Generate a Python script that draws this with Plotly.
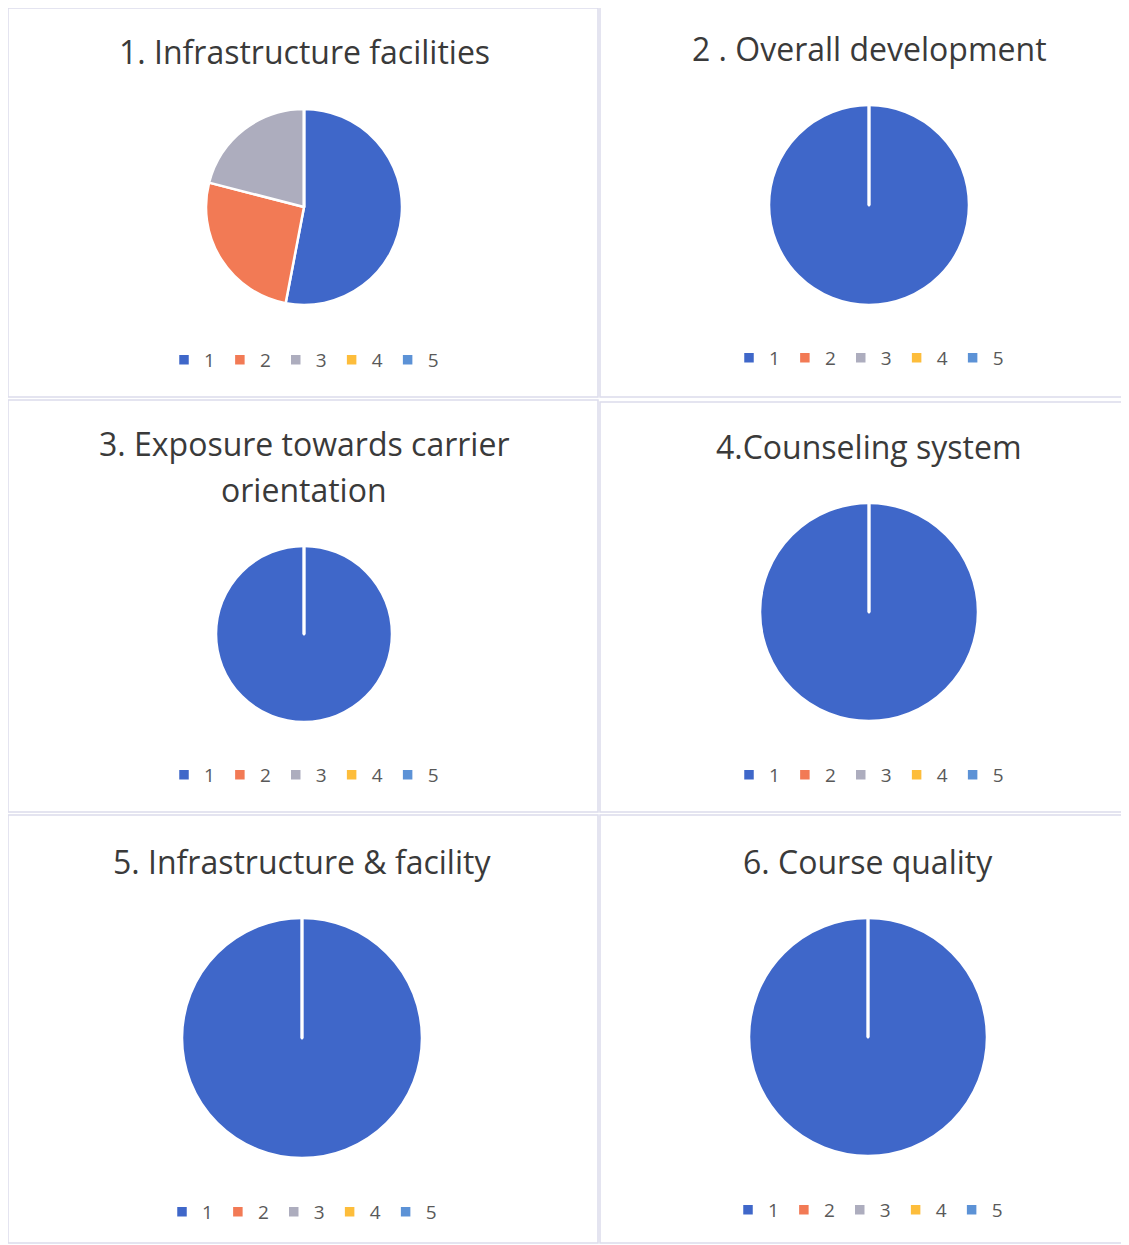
import plotly.graph_objects as go

# survey ratings, share of answers per rating (1..5)
ratings = ["1", "2", "3", "4", "5"]
titles = [
    "1. Infrastructure facilities",
    "2 . Overall development",
    "3. Exposure towards carrier<br>orientation",
    "4.Counseling system",
    "5. Infrastructure & facility",
    "6. Course quality",
]
q1 = [53, 26, 21, 0, 0]
q2 = [100, 0, 0, 0, 0]
q3 = [100, 0, 0, 0, 0]
q4 = [100, 0, 0, 0, 0]
q5 = [100, 0, 0, 0, 0]
q6 = [100, 0, 0, 0, 0]
colors = ["#3F67C9", "#F27A55", "#ADADBE", "#FDBD3B", "#5C92D6"]

# page puts the plot 8px in from the top left corner
OFF = 8
W, H = 1129 - OFF, 1245 - OFF

# layout of each panel: pie centre, pie radius, title y, legend y (pixels in the picture)
panels = [
    dict(cx=304, cy=207, r=98, ty=[52], ly=360),
    dict(cx=869, cy=205, r=100, ty=[48], ly=358),
    dict(cx=304, cy=634, r=88, ty=[443, 489], ly=775),
    dict(cx=869, cy=612, r=109, ty=[446], ly=775),
    dict(cx=302, cy=1038, r=120, ty=[861], ly=1212),
    dict(cx=868, cy=1037, r=119, ty=[861], ly=1210),
]
boxes = [(8, 8, 598, 397), (600, 4, 1127, 397),
         (8, 400, 598, 812), (600, 402, 1127, 812),
         (8, 815, 598, 1243), (600, 815, 1127, 1243)]


def px(x):
    return (x - OFF) / W


def py(y):
    return 1 - (y - OFF) / H


fig = go.Figure()
annotations = []
shapes = []
layout_legends = {}

for i, (vals, p) in enumerate(zip([q1, q2, q3, q4, q5, q6], panels)):
    leg = "legend" if i == 0 else "legend%d" % (i + 1)
    # own legendgroup per pie, otherwise shared labels only show up in the first legend
    fig.add_trace(go.Pie(
        labels=ratings,
        values=vals,
        marker=dict(colors=colors, line=dict(color="white", width=2.5)),
        sort=False, direction="clockwise", rotation=0,
        textinfo="none", hoverinfo="label+percent",
        domain=dict(x=[px(p["cx"] - p["r"]), px(p["cx"] + p["r"])],
                    y=[py(p["cy"] + p["r"]), py(p["cy"] - p["r"])]),
        legend=leg, legendgroup="q%d" % (i + 1),
    ))
    layout_legends[leg] = dict(
        orientation="h", traceorder="normal",
        x=px(p["cx"]), y=py(p["ly"]),
        xanchor="center", yanchor="middle", itemwidth=30,
        font=dict(family="Open Sans", size=19, color="#595959"),
        bgcolor="rgba(0,0,0,0)",
    )
    lines = titles[i].split("<br>")
    for line, ty in zip(lines, p["ty"]):
        annotations.append(dict(
            text=line, x=px(p["cx"]), y=py(ty), xref="paper", yref="paper",
            showarrow=False, xanchor="center", yanchor="middle",
            font=dict(family="Open Sans", size=32, color="#3A3A3A"),
        ))

for x0, y0, x1, y1 in boxes:
    shapes.append(dict(type="rect", xref="paper", yref="paper",
                       x0=px(x0), x1=px(x1), y0=py(y1), y1=py(y0),
                       line=dict(color="#DCDCEC", width=1.5)))

fig.update_layout(
    width=W, height=H,
    margin=dict(l=0, r=0, t=0, b=0),
    paper_bgcolor="white", plot_bgcolor="white",
    annotations=annotations, shapes=shapes,
    **layout_legends,
)

fig.write_html("out.html")
